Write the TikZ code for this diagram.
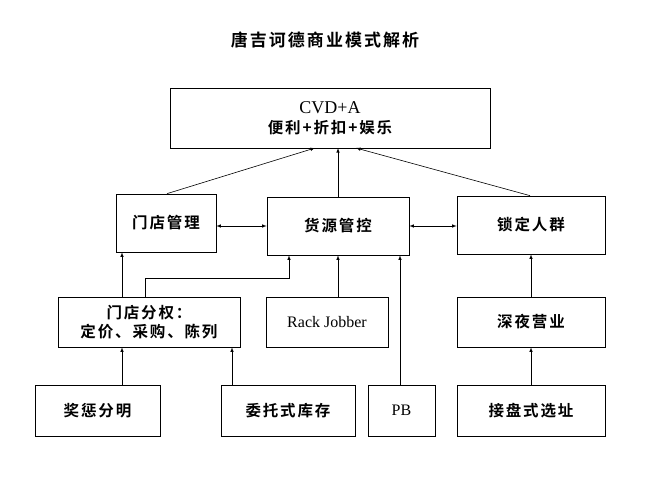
\documentclass[tikz,border=0pt]{standalone}
\usepackage{fontspec}
\setmainfont{Liberation Serif}
\newfontfamily\cjk{Noto Sans CJK SC Bold}[LetterSpace=12]
\begin{document}
\begin{tikzpicture}[x=1pt,y=-1pt,
 box/.style={draw,line width=0.7pt,align=center,inner sep=0pt,font=\cjk\fontsize{15.5}{19}\selectfont},
 ar/.style={-latex,line width=0.6pt}]
\useasboundingbox (0,0) rectangle (650,480);
\def\bx#1#2#3#4#5#6{\node[box,minimum width=#4-#2,minimum height=#5-#3] (#1) at ({(#2+#4)/2},{(#3+#5)/2}) {#6};}
\node[font=\cjk\fontsize{17}{19}\selectfont] (t) at (325,40) {唐吉诃德商业模式解析};
\bx{top}{170}{88}{490}{148}{{\rmfamily\fontsize{18}{20}\selectfont CVD+A}\\[1pt]便利+折扣+娱乐}
\bx{mg}{116}{194}{216}{252}{门店管理}
\bx{hy}{267}{197}{409}{255}{货源管控}
\bx{sd}{457}{196}{605}{254}{锁定人群}
\bx{fq}{58}{297}{240}{347}{门店分权：\\定价、采购、陈列}
\bx{rj}{266}{297}{388}{347}{{\rmfamily\fontsize{16}{18}\selectfont Rack Jobber}}
\bx{sy}{457}{297}{605}{347}{深夜营业}
\bx{jc}{35}{385}{160}{436}{奖惩分明}
\bx{wt}{221}{385}{355}{436}{委托式库存}
\bx{pb}{368}{385}{435}{436}{{\rmfamily\fontsize{16}{18}\selectfont PB}}
\bx{jp}{457}{385}{605}{436}{接盘式选址}
\coordinate (a1) at (315,148); \coordinate (a2) at (338,148); \coordinate (a3) at (356,148);
\draw[ar] (mg.north -| 167,0) -- (a1);
\draw[ar] (hy.north -| 338,0) -- (a2);
\draw[ar] (sd.north -| 530,0) -- (a3);
\draw[latex-latex,line width=0.6pt] (mg.east |- 0,226) -- (hy.west |- 0,226);
\draw[latex-latex,line width=0.6pt] (hy.east |- 0,226) -- (sd.west |- 0,226);
\draw[ar] (fq.north -| 122,0) -- (mg.south -| 122,0);
\draw[ar] (fq.north -| 145,0) -- (145,278) -- (289,278) -- (hy.south -| 289,0);
\draw[ar] (rj.north -| 338,0) -- (hy.south -| 338,0);
\draw[ar] (pb.north -| 400,0) -- (hy.south -| 400,0);
\draw[ar] (sy.north -| 531,0) -- (sd.south -| 531,0);
\draw[ar] (jc.north -| 122,0) -- (fq.south -| 122,0);
\draw[ar] (wt.north -| 232,0) -- (fq.south -| 232,0);
\draw[ar] (jp.north -| 531,0) -- (sy.south -| 531,0);
\end{tikzpicture}
\end{document}
